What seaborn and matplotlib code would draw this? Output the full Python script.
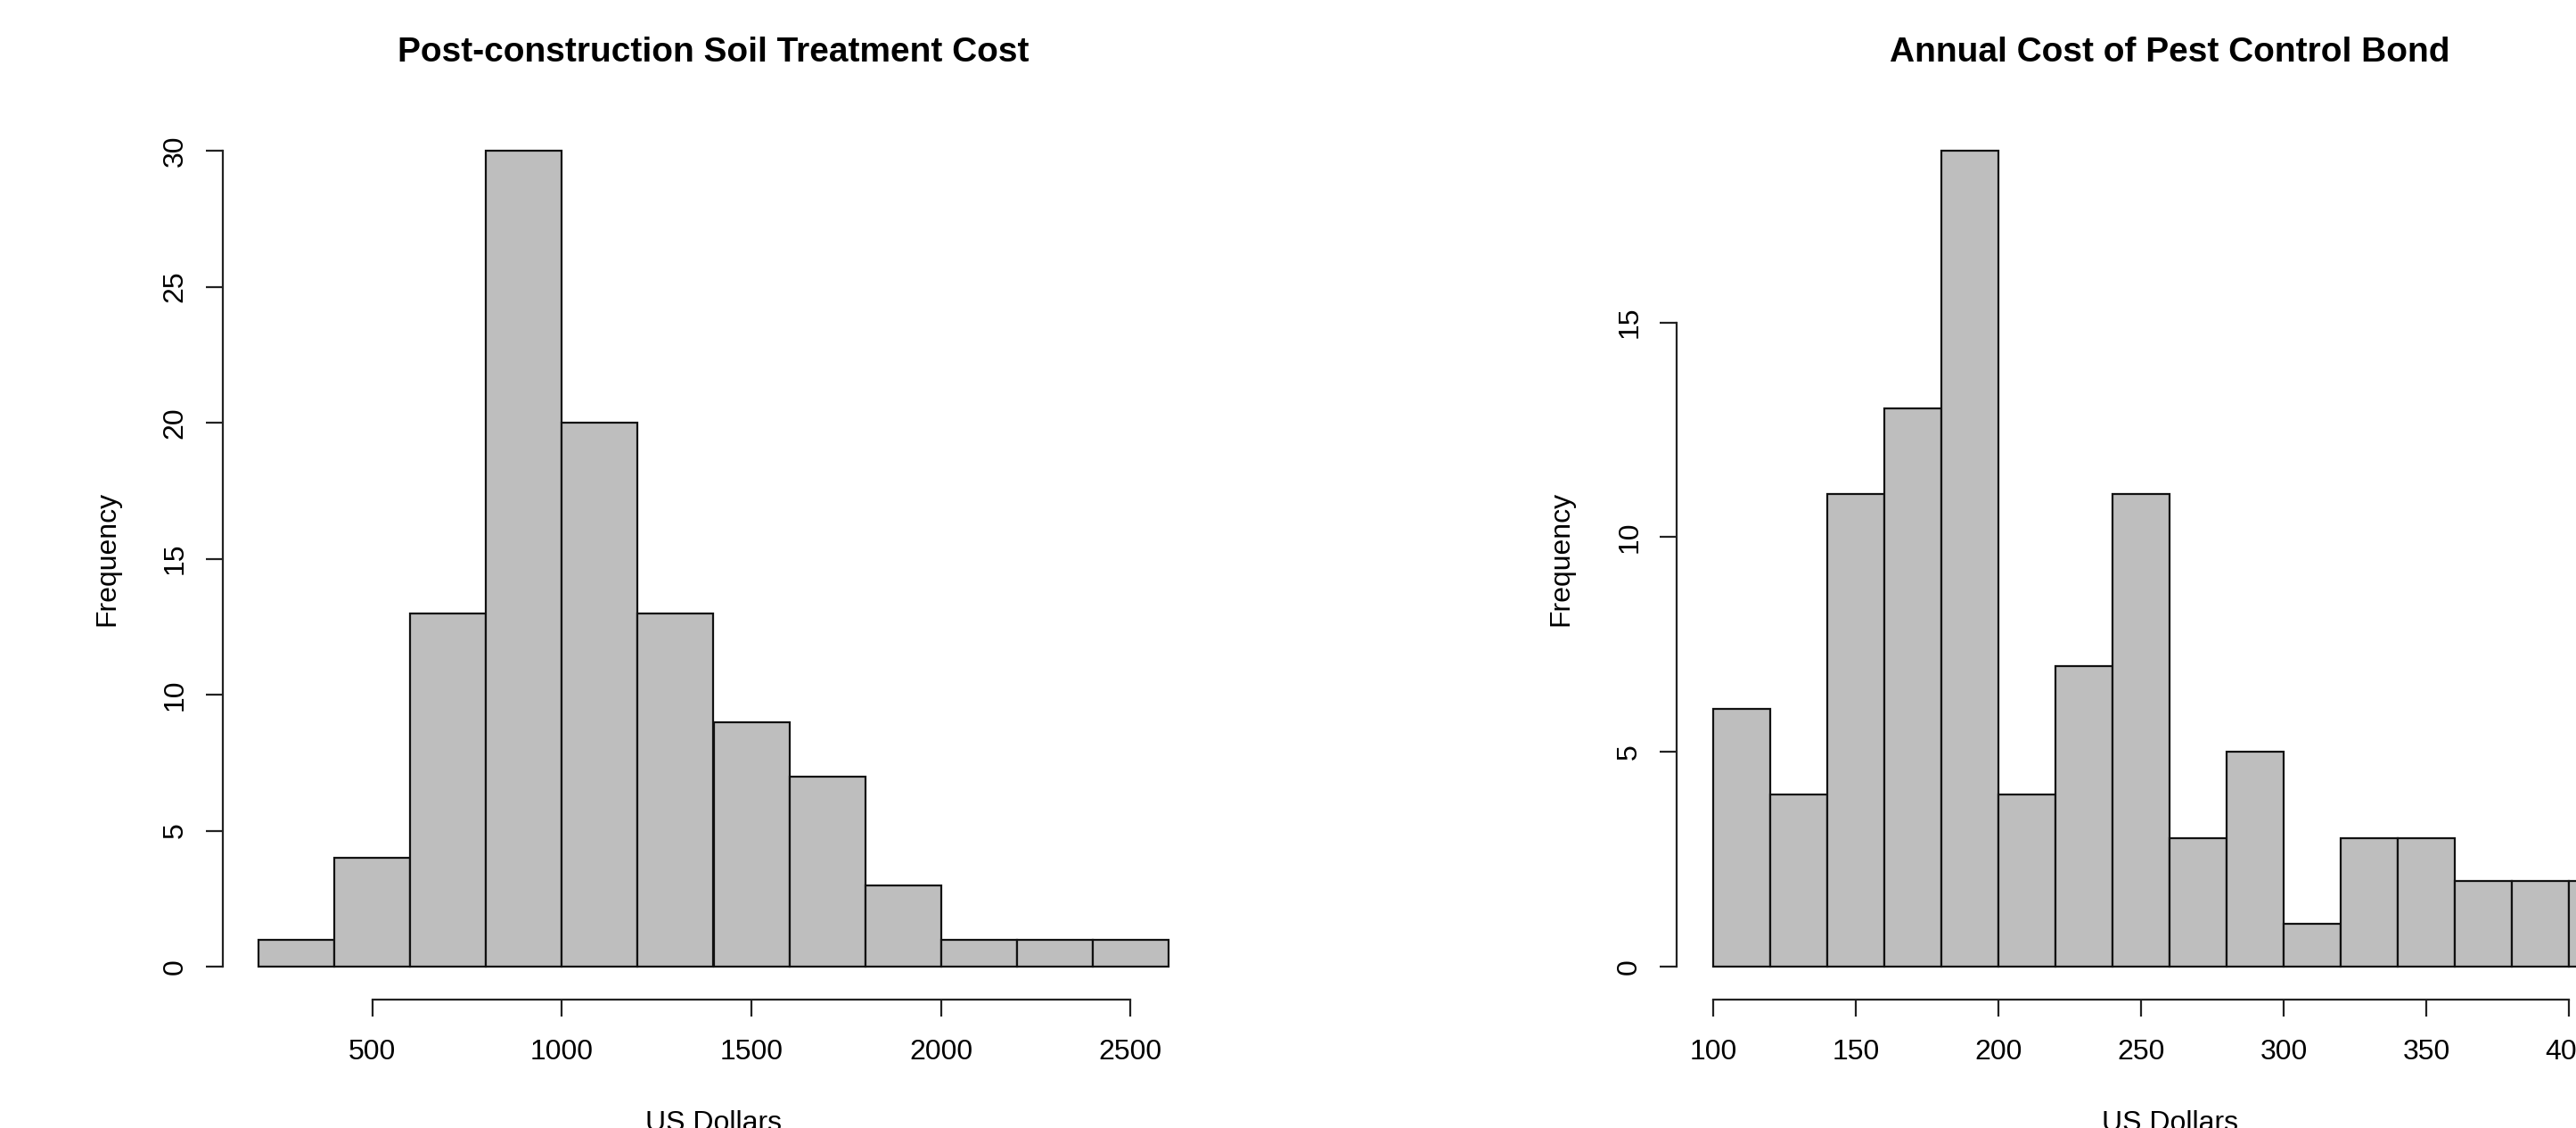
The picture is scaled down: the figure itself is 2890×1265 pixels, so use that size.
import numpy as np
import pandas as pd
import seaborn as sns
import matplotlib.pyplot as plt

# 1. style
sns.set_style('white')
plt.rcParams['font.family'] = ['Liberation Sans', 'DejaVu Sans']
plt.rcParams['text.color'] = 'black'
plt.rcParams['axes.labelcolor'] = 'black'
plt.rcParams['xtick.labelcolor'] = 'black'
plt.rcParams['ytick.labelcolor'] = 'black'

# 2. data
soil_edges = [200, 400, 600, 800, 1000, 1200, 1400, 1600, 1800, 2000, 2200, 2400, 2600]
soil_counts = [1, 4, 13, 30, 20, 13, 9, 7, 3, 1, 1, 1]
soil_xticks = [500, 1000, 1500, 2000, 2500]
soil_yticks = [0, 5, 10, 15, 20, 25, 30]

bond_edges = [100, 120, 140, 160, 180, 200, 220, 240, 260, 280, 300, 320, 340, 360, 380, 400, 420]
bond_counts = [6, 4, 11, 13, 19, 4, 7, 11, 3, 5, 1, 3, 3, 2, 2, 2]
bond_xticks = [100, 150, 200, 250, 300, 350, 400]
bond_yticks = [0, 5, 10, 15]

titles = ['Post-construction Soil Treatment Cost', 'Annual Cost of Pest Control Bond']
x_label = 'US Dollars'
y_label = 'Frequency'

W, H = 2890, 1265
TOP, BOTTOM = 132.4, 1120.6  # plot region in pixels


def draw_panel(left_px, width_px, edges, counts, title, xticks, yticks):
    ax = plt.gcf().add_axes([left_px / W, 1 - BOTTOM / H, width_px / W, (BOTTOM - TOP) / H])
    df = pd.DataFrame({'mid': (np.array(edges[:-1]) + np.array(edges[1:])) / 2, 'n': counts})
    sns.histplot(data=df, x='mid', weights='n', bins=edges, color='#BEBEBE',
                 edgecolor='#111111', linewidth=1.6, alpha=1, ax=ax)

    # R style axis limits: 4% padding
    xr = edges[-1] - edges[0]
    ax.set_xlim(edges[0] - 0.04 * xr, edges[-1] + 0.04 * xr)
    ymax = max(counts)
    ax.set_ylim(-0.04 * ymax, 1.04 * ymax)

    for s in ['top', 'right']:
        ax.spines[s].set_visible(False)
    for s in ['left', 'bottom']:
        ax.spines[s].set_linewidth(1.6)
        ax.spines[s].set_color('#222222')
    ax.spines['left'].set_bounds(yticks[0], yticks[-1])
    ax.spines['bottom'].set_bounds(xticks[0], xticks[-1])

    ax.set_xticks(xticks)
    ax.set_yticks(yticks)
    ax.tick_params(length=13.7, width=1.6, color='#222222', labelsize=23, direction='out')
    ax.tick_params(axis='x', pad=18.5, bottom=True)
    ax.tick_params(axis='y', pad=13.5, left=True, labelrotation=90)
    for lab in ax.get_yticklabels():
        lab.set_va('center')

    ax.set_title(title, fontsize=28, fontweight='bold', y=1 + (TOP - 69) / (BOTTOM - TOP),
                 pad=0, va='baseline', color='black')
    ax.set_xlabel(x_label, fontsize=23)
    ax.xaxis.set_label_coords(0.5, -(1245 - BOTTOM) / (BOTTOM - TOP))
    ax.set_ylabel(y_label, fontsize=23)
    ax.yaxis.set_label_coords(-114.5 / width_px, 0.5)
    return ax


fig = plt.figure(figsize=(W / 100, H / 100), dpi=100)
draw_panel(249.5, 1102, soil_edges, soil_counts, titles[0], soil_xticks, soil_yticks)
draw_panel(1881, 1106, bond_edges, bond_counts, titles[1], bond_xticks, bond_yticks)

fig.savefig('out.png', dpi=100)
